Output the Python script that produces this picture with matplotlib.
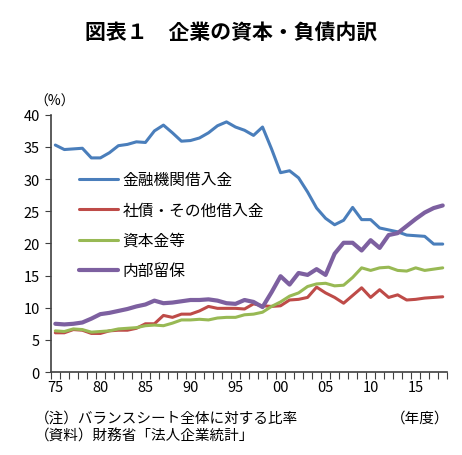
import numpy as np
import matplotlib.pyplot as plt

plt.rcParams['font.family'] = ['Noto Sans CJK JP', 'DejaVu Sans']

# ---- data (fiscal years 1975-2018, % of balance sheet) ----
years = list(range(1975, 2019))
bank_loans = [35.3, 34.6, 34.7, 34.8, 33.3, 33.3, 34.1, 35.2, 35.4, 35.8, 35.7, 37.5, 38.4, 37.2,
              35.9, 36.0, 36.4, 37.2, 38.3, 38.9, 38.1, 37.6, 36.8, 38.1, 34.7, 31.0, 31.3, 30.2,
              28.0, 25.5, 23.9, 22.9, 23.6, 25.6, 23.7, 23.7, 22.4, 22.1, 21.8, 21.3, 21.2, 21.1,
              19.9, 19.9]
bonds_other = [6.1, 6.1, 6.6, 6.5, 6.0, 6.0, 6.4, 6.5, 6.5, 6.8, 7.5, 7.5, 8.8, 8.5, 9.0, 9.0,
               9.5, 10.2, 9.9, 9.9, 9.9, 9.8, 10.6, 10.3, 10.2, 10.3, 11.2, 11.3, 11.6, 13.2,
               12.3, 11.6, 10.7, 11.9, 13.1, 11.6, 12.8, 11.6, 12.0, 11.2, 11.3, 11.5, 11.6, 11.7]
capital = [6.4, 6.3, 6.7, 6.6, 6.2, 6.3, 6.4, 6.7, 6.8, 6.9, 7.2, 7.3, 7.2, 7.6, 8.1, 8.1,
           8.2, 8.1, 8.4, 8.5, 8.5, 8.9, 9.0, 9.3, 10.2, 10.9, 11.8, 12.3, 13.3, 13.7, 13.8,
           13.4, 13.5, 14.7, 16.2, 15.8, 16.2, 16.3, 15.8, 15.7, 16.2, 15.8, 16.0, 16.2]
retained = [7.5, 7.4, 7.5, 7.7, 8.3, 9.0, 9.2, 9.5, 9.8, 10.2, 10.5, 11.1, 10.7, 10.8, 11.0,
            11.2, 11.2, 11.3, 11.1, 10.7, 10.6, 11.2, 10.9, 10.1, 12.4, 14.9, 13.6, 15.4, 15.1,
            16.0, 15.1, 18.4, 20.1, 20.1, 18.9, 20.5, 19.3, 21.3, 21.6, 22.7, 23.8, 24.8, 25.5,
            25.9]

series_names = ['金融機関借入金', '社債・その他借入金', '資本金等', '内部留保']
colors = ['#4A7EBB', '#BE4B48', '#98B954', '#7D60A0']
widths = [2.2, 2.2, 2.2, 3.0]

x = np.arange(len(years))

fig = plt.figure(figsize=(4.62, 4.56), dpi=100)
ax = fig.add_axes([0.110, 0.182, 0.858, 0.564])

for vals, name, c, lw in zip([bank_loans, bonds_other, capital, retained], series_names, colors, widths):
    ax.plot(x, vals, color=c, lw=lw, label=name, solid_capstyle='round')

ax.set_xlim(-0.5, len(years) - 0.5)
ax.set_ylim(0, 40)
ax.set_yticks(range(0, 41, 5))
ax.tick_params(axis='y', labelsize=10.5, length=4, direction='out', color='#404040', pad=4)

# category axis: ticks between years, labels every 5 years
ax.set_xticks(np.arange(-0.5, len(years), 1))
ax.set_xticklabels([])
ax.set_xticks([i for i, y in enumerate(years) if y % 5 == 0], minor=True)
ax.set_xticklabels([f'{y % 100:02d}' for y in years if y % 5 == 0], minor=True)
ax.tick_params(axis='x', which='major', length=5, direction='out', color='#404040')
ax.tick_params(axis='x', which='minor', length=0, labelsize=10.5, pad=6)

for s in ['top', 'right']:
    ax.spines[s].set_visible(False)
for s in ['left', 'bottom']:
    ax.spines[s].set_color('#404040')
    ax.spines[s].set_linewidth(1.2)

leg = ax.legend(loc='upper left', bbox_to_anchor=(0.035, 0.835), frameon=False, fontsize=11.3,
                handlelength=2.5, handletextpad=0.3, labelspacing=0.85)

fig.text(0.5, 0.927, '図表１　企業の資本・負債内訳', ha='center', va='center',
         fontsize=15, fontweight='bold')
fig.text(0.075, 0.776, '（%）', ha='left', va='center', fontsize=10)
fig.text(0.075, 0.083, '（注）バランスシート全体に対する比率', ha='left', va='center', fontsize=10.5)
fig.text(0.075, 0.043, '（資料）財務省「法人企業統計」', ha='left', va='center', fontsize=10.5)
fig.text(0.972, 0.082, '（年度）', ha='right', va='center', fontsize=10.5)

fig.savefig('out.png', dpi=100)
